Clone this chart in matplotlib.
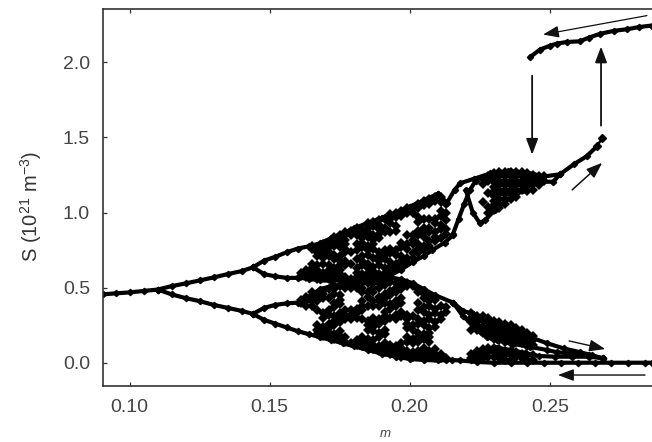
import matplotlib
matplotlib.use("Agg")
import matplotlib.pyplot as plt

plt.rcParams['font.family'] = ['Liberation Sans', 'DejaVu Sans']
plt.rcParams['mathtext.default'] = 'regular'

x_ticks = [0.10, 0.15, 0.20, 0.25]
x_tick_labels = ['0.10', '0.15', '0.20', '0.25']
y_ticks = [0.0, 0.5, 1.0, 1.5, 2.0]
y_tick_labels = ['0.0', '0.5', '1.0', '1.5', '2.0']

# Continuous branches: (m list, S list)
stem = ([0.0905, 0.095, 0.100, 0.105, 0.110], [0.455, 0.462, 0.468, 0.478, 0.487])
up_main = ([0.110, 0.115, 0.120, 0.125, 0.130, 0.135, 0.140, 0.144],
           [0.487, 0.510, 0.528, 0.548, 0.568, 0.590, 0.610, 0.635])
lo_main = ([0.110, 0.115, 0.120, 0.125, 0.130, 0.135, 0.140, 0.144],
           [0.487, 0.455, 0.430, 0.410, 0.385, 0.365, 0.345, 0.325])
up_a = ([0.144, 0.148, 0.152, 0.156, 0.160, 0.164, 0.168, 0.172, 0.176, 0.180, 0.185, 0.190, 0.195, 0.200, 0.205, 0.210],
        [0.635, 0.680, 0.705, 0.735, 0.760, 0.775, 0.795, 0.830, 0.860, 0.895, 0.930, 0.965, 1.000, 1.040, 1.080, 1.125])
up_b = ([0.144, 0.148, 0.152, 0.156, 0.160, 0.164, 0.168, 0.172, 0.176, 0.180, 0.185, 0.190, 0.193],
        [0.635, 0.590, 0.575, 0.565, 0.565, 0.560, 0.548, 0.545, 0.548, 0.548, 0.555, 0.570, 0.582])
up_right = ([0.193, 0.197, 0.201, 0.205, 0.208, 0.2125, 0.2155],
            [0.582, 0.620, 0.670, 0.710, 0.750, 0.800, 0.850])
lo_a = ([0.144, 0.148, 0.152, 0.156, 0.160, 0.164, 0.168, 0.172, 0.176, 0.180, 0.185, 0.190, 0.193],
        [0.325, 0.365, 0.385, 0.395, 0.400, 0.440, 0.490, 0.510, 0.520, 0.530, 0.545, 0.555, 0.568])
lo_b = ([0.144, 0.148, 0.152, 0.156, 0.160, 0.164, 0.168, 0.172, 0.176, 0.180, 0.185, 0.190, 0.195, 0.200, 0.205, 0.210, 0.215],
        [0.325, 0.285, 0.260, 0.235, 0.210, 0.190, 0.170, 0.150, 0.130, 0.110, 0.085, 0.060, 0.040, 0.025, 0.018, 0.015, 0.018])
lo_right = ([0.193, 0.197, 0.201, 0.205, 0.209, 0.2155, 0.219, 0.2226, 0.2255, 0.2287, 0.232, 0.237, 0.243, 0.249, 0.255, 0.2608, 0.265, 0.269],
            [0.568, 0.555, 0.530, 0.490, 0.450, 0.400, 0.345, 0.325, 0.290, 0.280, 0.250, 0.220, 0.170, 0.130, 0.095, 0.070, 0.050, 0.028])
strand_a = ([0.2155, 0.219, 0.2226, 0.2255, 0.2275, 0.231, 0.237, 0.243, 0.249, 0.2525, 0.258, 0.264, 0.269],
            [0.400, 0.310, 0.250, 0.205, 0.170, 0.150, 0.125, 0.105, 0.085, 0.070, 0.060, 0.050, 0.030])
zero_line = ([0.213, 0.218, 0.224, 0.230, 0.236, 0.242, 0.248, 0.254, 0.260, 0.266, 0.272, 0.278, 0.284, 0.2865],
             [0.020, 0.015, 0.005, 0.000, 0.000, 0.000, 0.000, 0.000, 0.000, 0.000, 0.000, 0.000, 0.000, 0.000])
hump = ([0.222, 0.226, 0.231, 0.236, 0.241, 0.246, 0.252, 0.258, 0.264, 0.269],
        [0.020, 0.060, 0.100, 0.085, 0.065, 0.045, 0.040, 0.040, 0.040, 0.030])
hi_a = ([0.2100, 0.2133, 0.2160, 0.2180, 0.2230, 0.2287, 0.2350, 0.2420, 0.2480, 0.2537, 0.2585, 0.2632, 0.2668],
        [1.125, 1.065, 1.150, 1.195, 1.225, 1.260, 1.275, 1.265, 1.240, 1.255, 1.320, 1.375, 1.440])
hi_diag = ([0.2155, 0.2175, 0.2195, 0.2215, 0.2235],
           [0.860, 0.960, 1.060, 1.150, 1.210])
hi_loop = ([0.2200, 0.2225, 0.2250, 0.2270, 0.2305, 0.2360, 0.2405, 0.2450, 0.2512, 0.2537],
           [1.150, 1.000, 0.930, 0.950, 1.020, 1.100, 1.150, 1.205, 1.205, 1.255])
tail_m = [0.2668, 0.2687]
tail_s = [1.440, 1.495]
top_branch = ([0.2430, 0.2465, 0.2500, 0.2526, 0.2560, 0.2608, 0.2640, 0.2680, 0.2730, 0.2775, 0.2820, 0.2865],
              [2.035, 2.085, 2.110, 2.125, 2.135, 2.140, 2.165, 2.190, 2.210, 2.220, 2.235, 2.245])

# Chaotic bands read column by column (holes and specks left out)
upper_m = [0.161, 0.163, 0.165, 0.167, 0.169, 0.171, 0.173, 0.175, 0.177, 0.179, 0.181, 0.183, 0.185, 0.187, 0.189,
           0.191, 0.193, 0.195, 0.197, 0.199, 0.201, 0.203, 0.205, 0.207, 0.209, 0.211, 0.213]
upper_s = [
    [.58, .60],
    [.57, .60, .62],
    [.57, .60, .63, .66, .76, .78],
    [.56, .59, .62, .65, .71, .74, .77],
    [.57, .60, .66, .70, .73, .76, .79],
    [.56, .59, .62, .65, .71, .74, .77, .80],
    [.57, .60, .63, .69, .72, .78, .81, .84],
    [.56, .59, .62, .65, .68, .71, .77, .80, .83, .85],
    [.57, .65, .68, .74, .76, .79, .82, .85, .87],
    [.56, .66, .74, .85, .88],
    [.57, .60, .63, .69, .75, .79, .85, .88, .90],
    [.56, .59, .65, .68, .71, .77, .80, .83, .86, .89],
    [.57, .60, .63, .66, .72, .75, .78, .84, .87, .90, .93],
    [.58, .61, .64, .70, .76, .79, .82, .85, .91, .94],
    [.59, .65, .68, .71, .74, .83, .86, .89, .92, .95],
    [.60, .63, .69, .72, .75, .87, .90, .96],
    [.61, .64, .67, .73, .76, .87, .93, .96, .99],
    [.63, .66, .72, .75, .88, .91, .97, 1.00],
    [.65, .68, .71, .77, .80, .98, 1.01],
    [.67, .70, .76, .79, .85, 1.00, 1.03],
    [.70, .73, .79, .82, .85, 1.00, 1.03],
    [.73, .76, .79, .85, .88, .94, .97, 1.03, 1.06],
    [.75, .78, .84, .87, .90, .96, 1.05, 1.08],
    [.78, .81, .87, .90, .96, 1.06, 1.09],
    [.81, .84, .87, .93, .96, 1.08, 1.10],
    [.83, .89, .92, .98, 1.01, 1.07, 1.10],
    [.86, .89, .95, 1.00, 1.06],
]
lower_m = upper_m[:]
lower_s = [
    [.40, .42],
    [.38, .41, .44],
    [.38, .41, .44, .47],
    [.19, .22, .25, .35, .41, .44, .46],
    [.18, .21, .24, .30, .33, .43, .46, .48],
    [.17, .20, .23, .26, .32, .35, .43, .49],
    [.16, .19, .25, .28, .31, .37, .40, .46, .49, .51],
    [.15, .18, .21, .27, .30, .33, .39, .42, .45, .51],
    [.14, .17, .29, .32, .35, .50, .52],
    [.13, .29, .32, .35, .50, .52],
    [.12, .15, .30, .33, .36, .50, .52],
    [.11, .14, .17, .29, .35, .38, .41, .47, .50, .53],
    [.10, .13, .16, .22, .25, .28, .38, .44, .47, .53],
    [.09, .12, .15, .21, .24, .27, .30, .38, .41, .47, .50, .53],
    [.08, .11, .17, .20, .26, .29, .38, .41, .44, .50, .53],
    [.07, .10, .13, .19, .22, .28, .31, .34, .40, .43, .46, .52, .55],
    [.06, .09, .12, .30, .36, .39, .45, .48, .54],
    [.05, .08, .11, .29, .32, .38, .41, .47, .50, .53],
    [.04, .07, .10, .13, .31, .34, .40, .43, .49, .52],
    [.05, .08, .14, .17, .23, .26, .29, .32, .51, .53],
    [.04, .07, .13, .16, .22, .25, .31, .51],
    [.05, .08, .14, .17, .20, .26, .29, .35, .40, .47, .49],
    [.04, .07, .10, .16, .19, .25, .28, .34, .37, .43, .46],
    [.05, .08, .14, .17, .20, .23, .29, .32, .38, .41, .44],
    [.03, .06, .09, .24, .27, .33, .36, .42],
    [.03, .06, .29, .32, .38],
    [.03, .34, .37],
]
blob_m = [0.2260, 0.2280, 0.2300, 0.2320, 0.2340, 0.2360, 0.2380, 0.2400, 0.2420, 0.2440, 0.2460, 0.2480]
blob_s = [
    [1.22, 1.19, 1.07],
    [1.24, 1.21, 1.13, 1.04, 1.00],
    [1.26, 1.23, 1.20, 1.17, 1.14, 1.11, 1.08, 1.05, 1.02],
    [1.27, 1.24, 1.21, 1.18, 1.15, 1.12, 1.09, 1.06, 1.03],
    [1.27, 1.24, 1.21, 1.18, 1.15, 1.12, 1.09, 1.06],
    [1.27, 1.24, 1.21, 1.18, 1.15, 1.12, 1.09],
    [1.27, 1.24, 1.21, 1.18, 1.15, 1.12, 1.10],
    [1.27, 1.24, 1.21, 1.18, 1.15],
    [1.26, 1.23, 1.20, 1.14],
    [1.25, 1.22, 1.19, 1.15],
    [1.24, 1.21, 1.18],
    [1.24, 1.21],
]
wedge_m = [0.2220, 0.2240, 0.2260, 0.2280, 0.2300, 0.2320, 0.2340, 0.2360, 0.2380, 0.2400, 0.2420, 0.2440]
wedge_top = [
    [.33, .30, .27, .22, .06, .03],
    [.31, .28, .25, .22, .08, .05, .02],
    [.31, .28, .24, .20, .09, .06, .03],
    [.30, .27, .24, .21, .18, .10, .07, .04],
    [.28, .25, .22, .19, .16, .10, .07, .04],
    [.27, .24, .21, .18, .15, .09, .06, .03],
    [.26, .23, .20, .17, .14, .08, .05, .02],
    [.25, .22, .19, .16, .13, .08, .05, .02],
    [.23, .20, .17, .14, .07, .04],
    [.22, .19, .16, .13, .06, .03],
    [.20, .17, .14, .11, .05, .02],
    [.18, .15, .12, .05, .02],
]

# Jump arrows: start (m, S), end (m, S), line width
arrow_start = [(0.2847, 2.311), (0.2437, 1.911), (0.2683, 1.578), (0.2580, 1.151), (0.2569, 0.145), (0.2840, -0.082)]
arrow_end = [(0.2476, 2.185), (0.2437, 1.385), (0.2683, 2.105), (0.2687, 1.331), (0.2698, 0.091), (0.2529, -0.082)]
arrow_lw = [0.9, 1.3, 1.3, 1.1, 1.0, 1.0]

fig = plt.figure(figsize=(6.52, 4.42), dpi=100)
ax = fig.add_axes([102.5 / 652, (442 - 386) / 442, (652 - 102.5) / 652, (386 - 9) / 442])

for branch in [stem, up_main, lo_main, up_a, up_b, up_right, lo_a, lo_b, lo_right, strand_a,
               zero_line, hump, hi_a, hi_diag, hi_loop, top_branch]:
    ax.plot(branch[0], branch[1], color='black', lw=3.0, marker='D', ms=3.2,
            solid_joinstyle='round', solid_capstyle='round')
ax.plot(tail_m, tail_s, color='black', lw=1.8, marker='D', ms=3.6)

for cols, vals in [(upper_m, upper_s), (lower_m, lower_s), (blob_m, blob_s), (wedge_m, wedge_top)]:
    for m_val, col in zip(cols, vals):
        ax.plot([m_val] * len(col), col, ls='none', marker='D', ms=4.7, color='black', mew=0)

for s, e, lw in zip(arrow_start, arrow_end, arrow_lw):
    ax.annotate('', xy=e, xytext=s, xycoords='data', textcoords='data',
                arrowprops=dict(arrowstyle='-|>,head_length=0.8,head_width=0.3',
                                color='#111111', lw=lw, shrinkA=0, shrinkB=0,
                                mutation_scale=12))

ax.set_xlim(0.0903, 0.2865)
ax.set_ylim(-0.155, 2.355)
ax.set_xticks(x_ticks, x_tick_labels)
ax.set_yticks(y_ticks, y_tick_labels)
ax.tick_params(direction='in', length=3, width=0.9, top=True, right=False,
               labelsize=14, labelcolor='#444444', color='#333333', pad=9)
for side in ['left', 'bottom', 'top']:
    ax.spines[side].set_linewidth(1.2)
    ax.spines[side].set_color('#333333')
ax.spines['right'].set_visible(False)

fig.text(385 / 652, 1 - 434 / 442, 'm', style='italic', fontsize=9.5, color='#444444',
         ha='center', va='center')
fig.text(31 / 652, 1 - 206 / 442, r'S (10$^{21}$ m$^{-3}$)', rotation=90, fontsize=14.5,
         color='#333333', ha='center', va='center')

fig.savefig('out.png', dpi=100)
